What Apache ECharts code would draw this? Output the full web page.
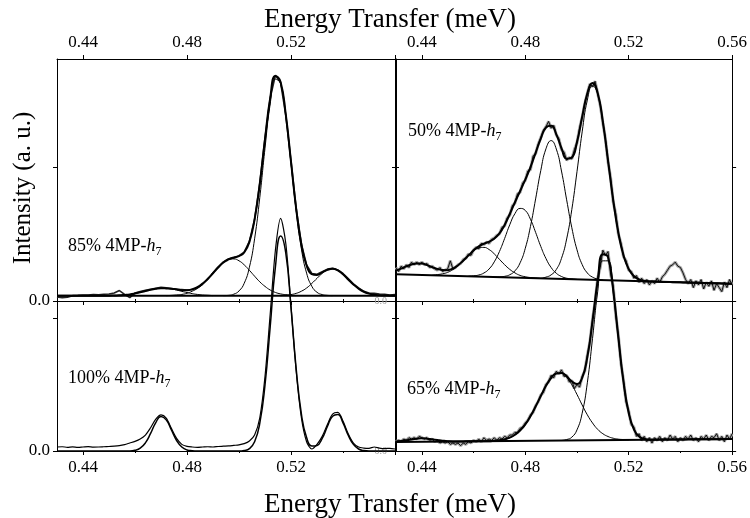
<!DOCTYPE html>
<html>
<head>
<meta charset="utf-8">
<script src="https://cdn.jsdelivr.net/npm/echarts@6/dist/echarts.min.js"></script>
<style>
html,body{margin:0;padding:0;background:#fff;}
#chart{width:750px;height:518px;}
</style>
</head>
<body>
<div id="chart"></div>
<script>
// ---------- energy axes (meV) ----------
const energyGrid = [
  0.430,0.432,0.434,0.436,0.438,0.440,0.442,0.444,0.446,0.448,
  0.450,0.452,0.454,0.456,0.458,0.460,0.462,0.464,0.466,0.468,
  0.470,0.472,0.474,0.476,0.478,0.480,0.482,0.484,0.486,0.488,
  0.490,0.492,0.494,0.496,0.498,0.500,0.502,0.504,0.506,0.508,
  0.510,0.512,0.514,0.516,0.518,0.520,0.522,0.524,0.526,0.528,
  0.530,0.532,0.534,0.536,0.538,0.540,0.542,0.544,0.546,0.548,
  0.550,0.552,0.554,0.556,0.558,0.560
];
const energyFine = [
  0.430,0.431,0.432,0.433,0.434,0.435,0.436,0.437,0.438,0.439,
  0.440,0.441,0.442,0.443,0.444,0.445,0.446,0.447,0.448,0.449,
  0.450,0.451,0.452,0.453,0.454,0.455,0.456,0.457,0.458,0.459,
  0.460,0.461,0.462,0.463,0.464,0.465,0.466,0.467,0.468,0.469,
  0.470,0.471,0.472,0.473,0.474,0.475,0.476,0.477,0.478,0.479,
  0.480,0.481,0.482,0.483,0.484,0.485,0.486,0.487,0.488,0.489,
  0.490,0.491,0.492,0.493,0.494,0.495,0.496,0.497,0.498,0.499,
  0.500,0.501,0.502,0.503,0.504,0.505,0.506,0.507,0.508,0.509,
  0.510,0.511,0.512,0.513,0.514,0.515,0.516,0.517,0.518,0.519,
  0.520,0.521,0.522,0.523,0.524,0.525,0.526,0.527,0.528,0.529,
  0.530,0.531,0.532,0.533,0.534,0.535,0.536,0.537,0.538,0.539,
  0.540,0.541,0.542,0.543,0.544,0.545,0.546,0.547,0.548,0.549,
  0.550,0.551,0.552,0.553,0.554,0.555,0.556,0.557,0.558,0.559,0.560
];
const energyTicks = [0.44, 0.48, 0.52, 0.56];
const energyMinorTicks = [0.46, 0.50, 0.54];
const labelsLeft = [0.44, 0.48, 0.52];
const labelsRight = [0.44, 0.48, 0.52, 0.56];

// ---------- 85% 4MP-h7 ----------
const data85 = [
  0.030,0.025,0.028,0.040,0.042,0.045,0.044,0.048,0.046,0.050,
  0.052,0.060,0.078,0.050,0.025,0.060,0.070,0.080,0.088,0.095,
  0.102,0.098,0.093,0.088,0.085,0.082,0.086,0.098,0.125,0.163,
  0.210,0.255,0.292,0.315,0.322,0.338,0.365,0.445,0.610,0.880,
  1.215,1.515,1.685,1.630,1.385,1.045,0.692,0.425,0.270,0.205,
  0.200,0.218,0.238,0.245,0.232,0.205,0.168,0.128,0.098,0.072,
  0.060,0.058,0.052,0.050,0.045,0.048
];
const fit85 = [
  0.040,0.040,0.040,0.040,0.040,0.040,0.040,0.040,0.040,0.040,
  0.040,0.041,0.042,0.045,0.049,0.056,0.065,0.074,0.084,0.091,
  0.095,0.094,0.092,0.087,0.081,0.081,0.088,0.103,0.130,0.166,
  0.207,0.250,0.287,0.310,0.325,0.335,0.362,0.441,0.609,0.876,
  1.209,1.513,1.680,1.635,1.390,1.040,0.688,0.422,0.265,0.201,
  0.194,0.214,0.232,0.240,0.228,0.199,0.161,0.123,0.092,0.069,
  0.055,0.047,0.043,0.041,0.040,0.040
];
const peak85a = [[0.452,0.040],[0.454,0.042],[0.456,0.045],[0.458,0.049],[0.460,0.056],[0.462,0.065],[0.464,0.074],[0.466,0.084],[0.468,0.091],[0.470,0.095],[0.472,0.094],[0.474,0.090],[0.476,0.082],[0.478,0.072],[0.480,0.063],[0.482,0.055],[0.484,0.049],[0.486,0.045],[0.488,0.043],[0.490,0.040]];
const peak85b = [[0.472,0.040],[0.474,0.042],[0.476,0.045],[0.478,0.049],[0.480,0.058],[0.482,0.073],[0.484,0.094],[0.486,0.125],[0.488,0.163],[0.490,0.207],[0.492,0.250],[0.494,0.287],[0.496,0.310],[0.498,0.314],[0.500,0.300],[0.502,0.270],[0.504,0.229],[0.506,0.185],[0.508,0.143],[0.510,0.109],[0.512,0.082],[0.514,0.064],[0.516,0.053],[0.518,0.047],[0.520,0.043],[0.522,0.040]];
const peak85c = [[0.494,0.040],[0.496,0.042],[0.498,0.051],[0.500,0.075],[0.502,0.132],[0.504,0.252],[0.506,0.464],[0.508,0.773],[0.510,1.140],[0.512,1.471],[0.514,1.656],[0.516,1.622],[0.518,1.383],[0.520,1.029],[0.522,0.671],[0.524,0.389],[0.526,0.208],[0.528,0.110],[0.530,0.065],[0.532,0.048],[0.534,0.042],[0.536,0.040]];
const peak85d = [[0.516,0.040],[0.518,0.043],[0.520,0.048],[0.522,0.057],[0.524,0.073],[0.526,0.097],[0.528,0.131],[0.530,0.169],[0.532,0.206],[0.534,0.232],[0.536,0.240],[0.538,0.228],[0.540,0.199],[0.542,0.161],[0.544,0.123],[0.546,0.092],[0.548,0.069],[0.550,0.055],[0.552,0.047],[0.554,0.043],[0.556,0.040]];
const base85 = [[0.430,0.040],[0.560,0.040]];

// ---------- 100% 4MP-h7 ----------
const data100 = [
  0.030,0.032,0.028,0.031,0.027,0.030,0.033,0.029,0.030,0.032,
  0.034,0.036,0.040,0.048,0.060,0.072,0.090,0.120,0.175,0.240,
  0.272,0.248,0.170,0.095,0.050,0.035,0.030,0.028,0.030,0.032,
  0.030,0.034,0.036,0.038,0.042,0.046,0.055,0.075,0.120,0.250,
  0.560,1.030,1.510,1.750,1.560,1.090,0.600,0.250,0.070,0.015,
  0.050,0.110,0.200,0.278,0.290,0.225,0.130,0.060,0.030,0.022,
  0.020,0.030,0.022,0.018,0.020,0.015
];
const fit100 = [
  0,0,0,0,0,0,0,0,0,0,
  0,0,0,0,0,0.005,0.021,0.061,0.132,0.214,
  0.259,0.234,0.158,0.079,0.030,0.008,0.002,0,0,0,
  0,0,0,0,0,0,0.004,0.018,0.069,0.209,
  0.497,0.935,1.384,1.616,1.487,1.078,0.617,0.278,0.101,0.038,
  0.042,0.095,0.184,0.262,0.275,0.211,0.119,0.050,0.015,0.003,
  0,0,0,0,0,0
];

// ---------- 50% 4MP-h7 ----------
const data50 = [
  0.25,0.22,0.26,0.24,0.27,0.25,0.29,0.27,0.29,0.27,
  0.29,0.27,0.28,0.25,0.26,0.24,0.23,0.25,0.22,0.23,
  0.24,0.30,0.24,0.25,0.27,0.28,0.31,0.32,0.35,0.34,
  0.38,0.40,0.39,0.43,0.42,0.44,0.43,0.46,0.47,0.49,
  0.50,0.55,0.56,0.62,0.64,0.71,0.73,0.80,0.81,0.88,
  0.90,0.97,0.98,1.08,1.10,1.17,1.22,1.27,1.30,1.34,
  1.29,1.31,1.24,1.21,1.13,1.11,1.05,1.07,1.06,1.13,
  1.18,1.29,1.37,1.47,1.55,1.62,1.60,1.64,1.55,1.46,
  1.33,1.21,1.04,0.92,0.74,0.65,0.50,0.43,0.33,0.30,
  0.23,0.22,0.17,0.19,0.14,0.17,0.13,0.16,0.12,0.15,
  0.13,0.17,0.14,0.18,0.20,0.23,0.26,0.27,0.29,0.26,
  0.25,0.21,0.16,0.13,0.16,0.10,0.15,0.12,0.16,0.09,
  0.14,0.11,0.15,0.08,0.13,0.10,0.07,0.14,0.10,0.16,0.12
];
const fit50 = [
  0.228,0.242,0.258,0.272,0.280,0.279,0.268,0.252,0.240,0.231,
  0.230,0.242,0.267,0.301,0.339,0.378,0.408,0.428,0.443,0.465,
  0.504,0.567,0.649,0.737,0.821,0.906,0.999,1.106,1.212,1.295,
  1.308,1.244,1.141,1.062,1.071,1.186,1.374,1.549,1.626,1.553,
  1.339,1.050,0.755,0.510,0.341,0.239,0.186,0.162,0.151,0.146,
  0.145,0.143,0.142,0.141,0.140,0.139,0.138,0.137,0.136,0.135,
  0.134,0.133,0.132,0.131,0.129,0.128
];
const peak50a = [[0.444,0.192],[0.446,0.197],[0.448,0.203],[0.450,0.214],[0.452,0.234],[0.454,0.263],[0.456,0.299],[0.458,0.339],[0.460,0.373],[0.462,0.396],[0.464,0.400],[0.466,0.384],[0.468,0.352],[0.470,0.311],[0.472,0.271],[0.474,0.236],[0.476,0.210],[0.478,0.191],[0.480,0.181],[0.482,0.175],[0.484,0.172],[0.486,0.169]];
const peak50b = [[0.458,0.185],[0.460,0.188],[0.462,0.194],[0.464,0.209],[0.466,0.239],[0.468,0.292],[0.470,0.369],[0.472,0.466],[0.474,0.569],[0.476,0.652],[0.478,0.691],[0.480,0.676],[0.482,0.610],[0.484,0.512],[0.486,0.407],[0.488,0.317],[0.490,0.250],[0.492,0.207],[0.494,0.183],[0.496,0.170],[0.498,0.165],[0.500,0.161]];
const peak50c = [[0.468,0.179],[0.470,0.180],[0.472,0.184],[0.474,0.196],[0.476,0.225],[0.478,0.285],[0.480,0.393],[0.482,0.556],[0.484,0.762],[0.486,0.974],[0.488,1.136],[0.490,1.197],[0.492,1.134],[0.494,0.970],[0.496,0.755],[0.498,0.547],[0.500,0.382],[0.502,0.272],[0.504,0.209],[0.506,0.178],[0.508,0.164],[0.510,0.156]];
const peak50d = [[0.486,0.169],[0.488,0.178],[0.490,0.195],[0.492,0.235],[0.494,0.318],[0.496,0.463],[0.498,0.683],[0.500,0.965],[0.502,1.262],[0.504,1.499],[0.506,1.606],[0.508,1.546],[0.510,1.339],[0.512,1.050],[0.514,0.755],[0.516,0.510],[0.518,0.341],[0.520,0.239],[0.522,0.186],[0.524,0.162],[0.526,0.151],[0.528,0.146]];
const base50 = [[0.430,0.200],[0.560,0.128]];

// ---------- 65% 4MP-h7 ----------
const data65 = [
  0.07,0.08,0.07,0.09,0.08,0.10,0.09,0.10,0.09,0.11,
  0.10,0.09,0.10,0.08,0.09,0.07,0.08,0.06,0.07,0.06,
  0.07,0.05,0.06,0.05,0.06,0.04,0.06,0.05,0.07,0.06,
  0.08,0.07,0.09,0.07,0.10,0.08,0.09,0.08,0.10,0.08,
  0.10,0.09,0.11,0.10,0.12,0.12,0.14,0.14,0.17,0.18,
  0.21,0.23,0.27,0.29,0.34,0.37,0.42,0.44,0.50,0.52,
  0.57,0.55,0.60,0.58,0.61,0.56,0.57,0.52,0.53,0.47,
  0.50,0.48,0.56,0.60,0.72,0.82,0.99,1.12,1.30,1.38,
  1.51,1.47,1.50,1.33,1.24,1.02,0.87,0.66,0.53,0.37,
  0.30,0.20,0.18,0.11,0.13,0.08,0.11,0.07,0.10,0.06,
  0.10,0.08,0.11,0.07,0.10,0.08,0.12,0.09,0.11,0.07,
  0.10,0.08,0.11,0.09,0.12,0.08,0.10,0.07,0.11,0.09,
  0.12,0.08,0.11,0.10,0.13,0.08,0.11,0.07,0.12,0.09,0.13
];
const fit65 = [
  0.071,0.075,0.081,0.087,0.092,0.095,0.093,0.088,0.083,0.078,
  0.074,0.072,0.072,0.072,0.073,0.073,0.073,0.074,0.074,0.077,
  0.081,0.088,0.100,0.122,0.154,0.200,0.262,0.335,0.414,0.490,
  0.549,0.583,0.586,0.562,0.523,0.504,0.550,0.706,0.975,1.279,
  1.479,1.457,1.212,0.854,0.519,0.287,0.163,0.109,0.091,0.085,
  0.085,0.086,0.086,0.086,0.087,0.087,0.087,0.088,0.088,0.088,
  0.088,0.089,0.089,0.089,0.090,0.090
];
const peak65a = [[0.464,0.074],[0.466,0.074],[0.468,0.077],[0.470,0.081],[0.472,0.088],[0.474,0.100],[0.476,0.122],[0.478,0.154],[0.480,0.200],[0.482,0.262],[0.484,0.335],[0.486,0.414],[0.488,0.490],[0.490,0.549],[0.492,0.583],[0.494,0.586],[0.496,0.555],[0.498,0.498],[0.500,0.425],[0.502,0.346],[0.504,0.272],[0.506,0.211],[0.508,0.163],[0.510,0.130],[0.512,0.109],[0.514,0.096],[0.516,0.089],[0.518,0.086],[0.520,0.083]];
const peak65b = [[0.494,0.079],[0.496,0.086],[0.498,0.104],[0.500,0.159],[0.502,0.284],[0.504,0.513],[0.506,0.845],[0.508,1.197],[0.510,1.430],[0.512,1.430],[0.514,1.198],[0.516,0.846],[0.518,0.516],[0.520,0.287],[0.522,0.163],[0.524,0.109],[0.526,0.091],[0.528,0.085]];
const base65 = [[0.430,0.068],[0.560,0.090]];

// ---------- layout & styling ----------
const FONT = '"Liberation Serif","Times New Roman",serif';
const INK = '#000';

const panels = [
  { box: {left: 57,  top: 59,  width: 338, height: 242}, yMax: 1.806, top: true,  labels: labelsLeft,  mainY: true },
  { box: {left: 57,  top: 301, width: 338, height: 150}, yMax: 1.128, top: false, labels: labelsLeft,  mainY: true },
  { box: {left: 396, top: 59,  width: 338, height: 242}, yMax: 1.806, top: true,  labels: labelsRight, mainY: false },
  { box: {left: 396, top: 301, width: 338, height: 150}, yMax: 1.128, top: false, labels: labelsRight, mainY: false }
];

const grids = [], xAxes = [], yAxes = [];
const tickLine = {color: INK, width: 1};
const axisLine = {show: true, onZero: false, lineStyle: {color: INK, width: 1}};
const labelFont = {fontFamily: FONT, fontSize: 17, color: INK};

panels.forEach((p, g) => {
  grids.push(Object.assign({containLabel: false}, p.box));
  const xBase = {gridIndex: g, type: 'value', min: 0.43, max: 0.56, splitLine: {show: false}};
  // bottom edge: ticks point outward (down); labels only on lower panels
  xAxes.push(Object.assign({}, xBase, {
    position: 'bottom', axisLine,
    axisTick: {show: true, inside: false, length: 4, customValues: energyTicks, lineStyle: tickLine},
    axisLabel: p.top ? {show: false} :
      Object.assign({show: true, customValues: p.labels, margin: 8, formatter: v => v.toFixed(2)}, labelFont)
  }));
  xAxes.push(Object.assign({}, xBase, {
    position: 'bottom', axisLine: {show: false},
    axisTick: {show: true, inside: false, length: 2, customValues: energyMinorTicks, lineStyle: tickLine},
    axisLabel: {show: false}
  }));
  // top edge: ticks and labels only on upper panels
  xAxes.push(Object.assign({}, xBase, {
    position: 'top', axisLine,
    axisTick: {show: p.top, inside: false, length: 4, customValues: energyTicks, lineStyle: tickLine},
    axisLabel: p.top ?
      Object.assign({show: true, customValues: p.labels, margin: 8, formatter: v => v.toFixed(2)}, labelFont) :
      {show: false}
  }));
  xAxes.push(Object.assign({}, xBase, {
    position: 'top', axisLine: {show: false},
    axisTick: {show: p.top, inside: false, length: 2, customValues: energyMinorTicks, lineStyle: tickLine},
    axisLabel: {show: false}
  }));
  const yBase = {gridIndex: g, type: 'value', min: 0, max: p.yMax, splitLine: {show: false}};
  yAxes.push(Object.assign({}, yBase, {
    position: 'left', axisLine,
    axisTick: {show: true, inside: false, length: 4, customValues: [0, 1], lineStyle: tickLine},
    axisLabel: p.mainY ?
      Object.assign({show: true, customValues: [0], margin: 7, formatter: () => '0.0'}, labelFont) :
      {show: true, customValues: [0], margin: 9, formatter: () => '0.0', fontFamily: FONT, fontSize: 10, color: '#9a9a9a'}
  }));
  yAxes.push(Object.assign({}, yBase, {
    position: 'right', axisLine,
    axisTick: {show: true, inside: false, length: 4, customValues: [0, 1], lineStyle: tickLine},
    axisLabel: {show: false}
  }));
});

function onGrid(values, xs) { return xs.map((x, i) => [x, values[i]]); }

function curve(g, data, width, opts) {
  return Object.assign({
    type: 'line', xAxisIndex: g * 4, yAxisIndex: g * 2, data,
    showSymbol: false, symbol: 'none', silent: true, clip: false,
    lineStyle: {color: INK, width}, z: 3
  }, opts || {});
}

const series = [
  // 85 %
  curve(0, onGrid(data85, energyGrid), 1.6, {lineStyle: {color: '#222', width: 1.6}}),
  curve(0, base85, 2),
  curve(0, peak85a, 1, {smooth: true}),
  curve(0, peak85b, 1, {smooth: true}),
  curve(0, peak85c, 1, {smooth: true}),
  curve(0, peak85d, 1, {smooth: true}),
  curve(0, onGrid(fit85, energyGrid), 2, {smooth: true, z: 4}),
  // 100 %
  curve(1, onGrid(data100, energyGrid), 1.2, {smooth: 0.3}),
  curve(1, onGrid(fit100, energyGrid), 1.5, {smooth: true, z: 4}),
  // 50 %
  curve(2, onGrid(data50, energyFine), 3, {lineStyle: {color: '#a8a8a8', width: 3}, z: 2}),
  curve(2, onGrid(data50, energyFine), 0.9),
  curve(2, base50, 2),
  curve(2, peak50a, 1, {smooth: true}),
  curve(2, peak50b, 1, {smooth: true}),
  curve(2, peak50c, 1, {smooth: true}),
  curve(2, peak50d, 1, {smooth: true}),
  curve(2, onGrid(fit50, energyGrid), 2, {smooth: true, z: 4}),
  // 65 %
  curve(3, onGrid(data65, energyFine), 3, {lineStyle: {color: '#a8a8a8', width: 3}, z: 2}),
  curve(3, onGrid(data65, energyFine), 0.9),
  curve(3, base65, 2),
  curve(3, peak65a, 1, {smooth: true}),
  curve(3, peak65b, 1, {smooth: true}),
  curve(3, onGrid(fit65, energyGrid), 2, {smooth: true, z: 4})
];

function sampleLabel(pct, x, y) {
  return {
    type: 'text', x, y, z: 10,
    style: {
      text: '{n|' + pct + ' 4MP-}{i|h}{s|7}',
      verticalAlign: 'middle',
      rich: {
        n: {fontFamily: FONT, fontSize: 18, lineHeight: 24, fill: INK},
        i: {fontFamily: FONT, fontSize: 18, fontStyle: 'italic', lineHeight: 24, fill: INK},
        s: {fontFamily: FONT, fontSize: 12, lineHeight: 12, verticalAlign: 'bottom', fill: INK}
      }
    }
  };
}

const option = {
  animation: false,
  backgroundColor: '#fff',
  grid: grids,
  xAxis: xAxes,
  yAxis: yAxes,
  series,
  graphic: [
    {type: 'text', x: 390, y: 20, style: {text: 'Energy Transfer (meV)', font: '27px ' + FONT, fill: INK, align: 'center', verticalAlign: 'middle'}},
    {type: 'text', x: 390, y: 505, style: {text: 'Energy Transfer (meV)', font: '27px ' + FONT, fill: INK, align: 'center', verticalAlign: 'middle'}},
    {type: 'text', x: 23, y: 188, rotation: Math.PI / 2, style: {text: 'Intensity (a. u.)', font: '25px ' + FONT, fill: INK, align: 'center', verticalAlign: 'middle'}},
    sampleLabel('85%', 68, 246),
    sampleLabel('100%', 68, 378),
    sampleLabel('50%', 408, 131),
    sampleLabel('65%', 407, 389)
  ]
};

const chart = echarts.init(document.getElementById('chart'), null, {renderer: 'canvas'});
chart.setOption(option);
</script>
</body>
</html>
